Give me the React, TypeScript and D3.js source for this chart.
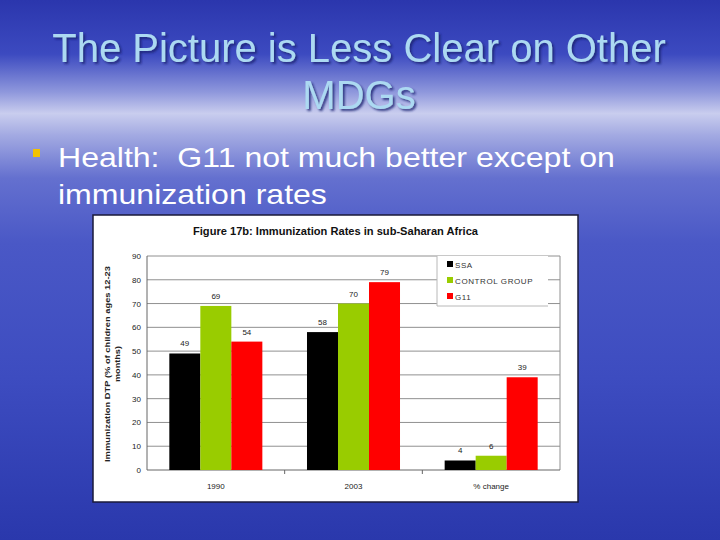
import React from 'react';
import * as d3 from 'd3';

const categories = ['1990', '2003', '% change'];
const seriesNames = ['SSA', 'CONTROL GROUP', 'G11'];
const seriesColors = ['#000000', '#99cc00', '#ff0000'];
const ssaValues = [49, 58, 4];
const controlValues = [69, 70, 6];
const g11Values = [54, 79, 39];
const yTicks = [0, 10, 20, 30, 40, 50, 60, 70, 80, 90];

const seriesValues = [ssaValues, controlValues, g11Values];

const App: React.FC = () => {
  const width = 720;
  const height = 540;
  const box = { x: 93, y: 215, w: 485, h: 287 };
  const plot = { left: 147, right: 560, top: 256, bottom: 470 };

  const x = d3.scaleBand<string>()
    .domain(categories)
    .range([plot.left, plot.right]);

  const xSub = d3.scaleBand<string>()
    .domain(seriesNames)
    .range([0, x.bandwidth()])
    .paddingInner(0)
    .paddingOuter(0.72);

  const y = d3.scaleLinear()
    .domain([0, 90])
    .range([plot.bottom, plot.top]);

  const font = 'Arial, "Liberation Sans", Helvetica, sans-serif';

  return (
    <svg width={width} height={height} style={{ position: 'absolute', left: 0, top: 0 }} fontFamily={font}>
      <defs>
        <linearGradient id="bg" x1="0" y1="0" x2="0" y2="1">
          <stop offset="0" stopColor="#2b36ad" />
          <stop offset="0.1" stopColor="#3c4ac0" />
          <stop offset="0.17" stopColor="#8e97dc" />
          <stop offset="0.21" stopColor="#c9cdee" />
          <stop offset="0.25" stopColor="#a3aae2" />
          <stop offset="0.33" stopColor="#6470cf" />
          <stop offset="0.45" stopColor="#4a58c6" />
          <stop offset="0.7" stopColor="#3d4cc0" />
          <stop offset="1" stopColor="#2a38ac" />
        </linearGradient>
        <filter id="shadow" x="-5%" y="-5%" width="110%" height="120%">
          <feDropShadow dx="2" dy="2" stdDeviation="0.8" floodColor="#1a2070" floodOpacity="0.8" />
        </filter>
      </defs>
      <rect x={0} y={0} width={width} height={height} fill="url(#bg)" />

      {/* slide title */}
      <g fill="#acd9f2" fontSize={40} textAnchor="middle" filter="url(#shadow)">
        <text x={359} y={62}>The Picture is Less Clear on Other</text>
        <text x={359} y={109}>MDGs</text>
      </g>

      {/* bullet */}
      <rect x={33} y={149} width={7} height={8} fill="#f2c200" />
      <g fill="#ffffff" fontSize={28} transform="translate(58,0) scale(1.145,1)">
        <text x={0} y={167} style={{ whiteSpace: 'pre' }}>Health:  G11 not much better except on</text>
        <text x={0} y={204}>immunization rates</text>
      </g>

      {/* chart box */}
      <rect x={box.x} y={box.y} width={box.w} height={box.h} fill="#ffffff" stroke="#1a1a3a" strokeWidth={1.5} />
      <text x={193} y={235} fontSize={10} fontWeight="bold" fill="#111" textLength={285} lengthAdjust="spacingAndGlyphs">
        Figure 17b: Immunization Rates in sub-Saharan Africa
      </text>

      {/* gridlines and y ticks */}
      {yTicks.map(t => (
        <g key={t}>
          {t > 0 && (
            <line x1={plot.left} x2={plot.right} y1={y(t)} y2={y(t)} stroke="#909090" strokeWidth={1} />
          )}
          <text x={141} y={y(t) + 3} fontSize={8} textAnchor="end" fill="#222">{t}</text>
        </g>
      ))}
      <line x1={plot.right} x2={plot.right} y1={plot.top} y2={plot.bottom} stroke="#909090" />
      <line x1={plot.left} x2={plot.left} y1={plot.top} y2={plot.bottom} stroke="#666" />
      <line x1={plot.left} x2={plot.right} y1={plot.bottom} y2={plot.bottom} stroke="#666" />

      {/* category ticks */}
      {categories.slice(1).map(c => (
        <line key={c} x1={x(c)!} x2={x(c)!} y1={plot.bottom} y2={plot.bottom + 4} stroke="#666" />
      ))}

      {/* legend, drawn over the gridlines */}
      <rect x={437} y={256} width={111} height={50} fill="#ffffff" />
      <line x1={437} x2={437} y1={256} y2={306} stroke="#b8b8b8" />
      <line x1={437} x2={548} y1={306} y2={306} stroke="#b8b8b8" />
      {seriesNames.map((s, i) => (
        <g key={s}>
          <rect x={447} y={261 + i * 16} width={6} height={6} fill={seriesColors[i]} />
          <text x={455} y={267.5 + i * 16} fontSize={8} fill="#333" letterSpacing={0.6}>{s}</text>
        </g>
      ))}

      {/* bars */}
      {categories.map((c, ci) => (
        <g key={c}>
          {seriesNames.map((s, si) => {
            const v = seriesValues[si][ci];
            const bx = x(c)! + xSub(s)!;
            return (
              <g key={s}>
                <rect
                  x={bx}
                  y={y(v)}
                  width={xSub.bandwidth()}
                  height={plot.bottom - y(v)}
                  fill={seriesColors[si]}
                />
                <text
                  x={bx + xSub.bandwidth() / 2}
                  y={y(v) - 7}
                  fontSize={8}
                  textAnchor="middle"
                  fill="#222"
                >
                  {v}
                </text>
              </g>
            );
          })}
          <text x={x(c)! + x.bandwidth() / 2} y={489} fontSize={8} textAnchor="middle" fill="#222">{c}</text>
        </g>
      ))}

      {/* y axis title */}
      <g transform="translate(110,364) rotate(-90)" fontSize={8} fontWeight="bold" textAnchor="middle" fill="#222">
        <text x={0} y={0} textLength={196} lengthAdjust="spacingAndGlyphs">Immunization DTP (% of children ages 12-23</text>
        <text x={0} y={10} textLength={36} lengthAdjust="spacingAndGlyphs">months)</text>
      </g>
    </svg>
  );
};

export default App;
